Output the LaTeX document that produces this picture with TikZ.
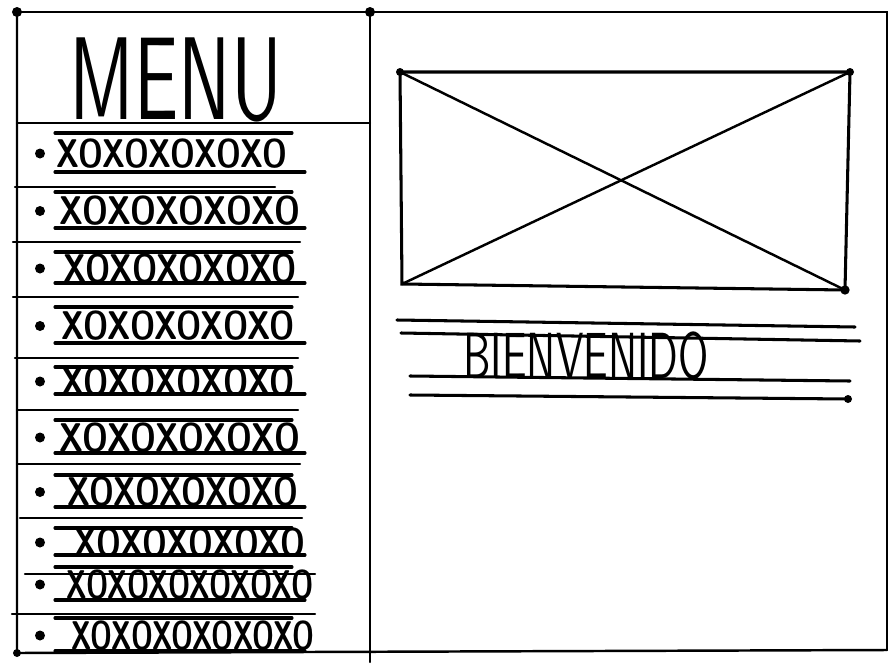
\documentclass[tikz,border=0pt]{standalone}
\usetikzlibrary{positioning}
\tikzset{
  pen/.style={line width=2.1pt,line cap=round,black},
  bar/.style={line width=2.6pt,line cap=round,black},
  dot/.style={circle,fill=black,inner sep=0pt,minimum size=3mm},
  hand/.style={inner sep=0pt,font=\sffamily}
}
\newcommand{\handtext}[3]{\resizebox{#1}{#2}{#3}}

\begin{document}
\begin{tikzpicture}[x=0.03cm,y=-0.03cm]
  \useasboundingbox[fill=white] (0,0) rectangle (888,665);

  % outer frame and column divider
  \coordinate (tl) at (17,12);
  \coordinate (tm) at (370,12);
  \coordinate (tr) at (887,12);
  \coordinate (bl) at (17,653);
  \coordinate (bm) at (370,662);
  \coordinate (br) at (887,650);
  \draw[pen] (tl) -- (tr) -- (br);
  \draw[pen] (tl) -- (bl) -- (br);
  \draw[pen] (tm) -- (bm);
  \node[dot] at (tl) {};
  \node[dot] at (tm) {};
  \node[dot,minimum size=2.4mm] at (bl) {};

  % menu header
  \draw[pen] (17,123) -- (370,123);
  \node[hand] (menu) at (176,80) {\handtext{6.36cm}{2.45cm}{MENU}};

  % menu items: separator / top bar / bottom bar / separator ends / text
  \foreach \sep/\ya/\yb/\sl/\sr/\word/\cx/\boxw [count=\i,
      evaluate=\ya as \yc using (\ya+\yb)/2+1] in
    {123/133/172/17/370/XOXOXOXOXO/172/6.9cm,
     187/192/228/15/275/XOXOXOXOXO/180/7.2cm,
     242/252/283/13/300/XOXOXOXOXO/180/7.0cm,
     297/307/343/13/298/XOXOXOXOXO/178/7.0cm,
     358/367/394/15/298/XOXOXOXOXO/178/7.0cm,
     410/420/453/17/298/XOXOXOXOXO/180/7.2cm,
     464/475/507/17/300/XOXOXOXOXO/183/6.9cm,
     518/528/555/20/302/XOXOXOXOXO/190/6.9cm,
     574/567/600/25/315/XOXOXOXOXOXO/190/7.4cm,
     614/618/651/12/315/XOXOXOXOXOXO/193/7.3cm}{
    \ifnum\i>1 \draw[pen] (\sl,\sep) -- (\sr,\sep); \fi
    \draw[bar] (55,\ya) -- (292,\ya);
    \draw[bar] (55,\yb) -- (305,\yb);
    \node[dot] (bullet\i) at (40,\yc) {};
    \node[hand,font=\sffamily\bfseries] (item\i) at (\cx,\yc)
      {\handtext{\boxw}{0.86cm}{\word}};
  }

  % image placeholder
  \coordinate (imgNW) at (400,72);
  \coordinate (imgNE) at (850,72);
  \coordinate (imgSE) at (845,290);
  \coordinate (imgSW) at (402,284);
  \draw[bar] (imgNW) -- (imgNE) -- (imgSE) -- (imgSW) -- cycle;
  \draw[pen] (imgNW) -- (imgSE);
  \draw[pen] (imgSW) -- (imgNE);
  \node[dot,minimum size=2.4mm] at (imgNW) {};
  \node[dot,minimum size=2.4mm] at (imgNE) {};
  \node[dot,minimum size=2.8mm] at (imgSE) {};

  % welcome text block
  \draw[bar] (397,320) -- (855,327);
  \draw[bar] (401,333) -- (860,341);
  \node[hand] (welcome) at (586,356) {\handtext{7.35cm}{1.4cm}{BIENVENIDO}};
  \draw[bar] (410,376) -- (850,381);
  \draw[bar] (410,395) -- (848,399);
  \node[dot,minimum size=2.4mm] at (848,399) {};
\end{tikzpicture}
\end{document}
